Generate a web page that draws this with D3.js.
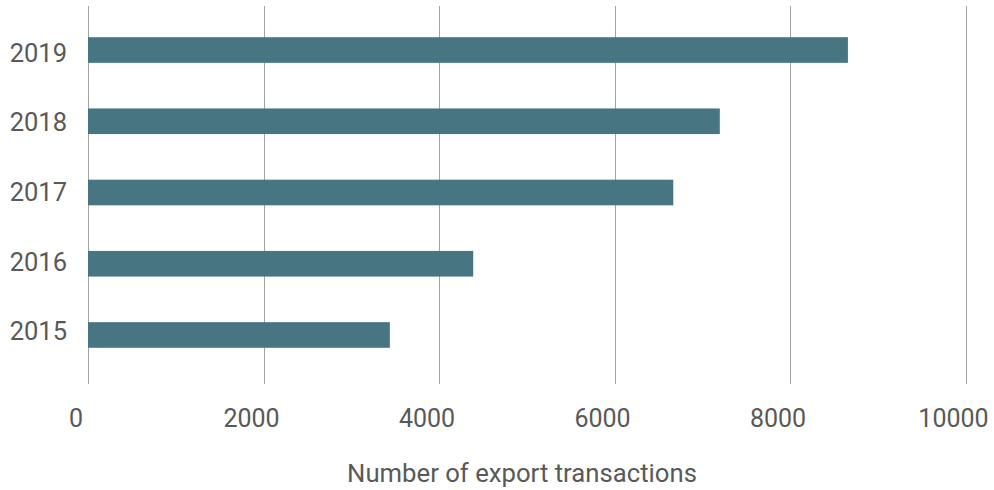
<!DOCTYPE html>
<html>
<head>
<meta charset="utf-8">
<script src="https://cdn.jsdelivr.net/npm/d3@7"></script>
<style>
  html, body { margin: 0; padding: 0; background: #fff; }
  svg { display: block; }
  text { font-family: Roboto, "Noto Sans", sans-serif; fill: #595959; }
</style>
</head>
<body>
<svg id="chart" width="994" height="490"></svg>
<script>
const years = ["2019", "2018", "2017", "2016", "2015"];
const transactions = [8660, 7200, 6670, 4390, 3440];
const xTicks = [0, 2000, 4000, 6000, 8000, 10000];
const xTitle = "Number of export transactions";

const svg = d3.select("#chart");
const x = d3.scaleLinear().domain([0, 10000]).range([88, 965.5]);
const y = d3.scaleBand().domain(years).range([14.4, 370.6]).paddingInner(0.64).paddingOuter(0.32);
const yLabel = d3.scalePoint().domain(years).range([52.7, 331]);

// gridlines
svg.append("g").selectAll("line").data(xTicks).join("line")
  .attr("x1", d => Math.round(x(d)) + 0.5).attr("x2", d => Math.round(x(d)) + 0.5)
  .attr("y1", 6).attr("y2", 384)
  .attr("stroke", "#a3a3a3").attr("stroke-width", 1);

// bars
svg.append("g").selectAll("rect").data(years).join("rect")
  .attr("x", x(0))
  .attr("y", d => y(d))
  .attr("width", (d, i) => x(transactions[i]) - x(0))
  .attr("height", y.bandwidth())
  .attr("fill", "#477682");

// y labels
svg.append("g").selectAll("text").data(years).join("text")
  .attr("x", 67)
  .attr("y", d => yLabel(d))
  .attr("dy", "0.36em")
  .attr("text-anchor", "end")
  .attr("font-size", 25.5)
  .text(d => d);

// x tick labels
svg.append("g").selectAll("text").data(xTicks).join("text")
  .attr("x", d => x(d) - 12)
  .attr("y", 426.5)
  .attr("text-anchor", "middle")
  .attr("font-size", 25)
  .text(d => d);

// x title
svg.append("text")
  .attr("x", 522)
  .attr("y", 482)
  .attr("text-anchor", "middle")
  .attr("font-size", 25.7)
  .text(xTitle);
</script>
</body>
</html>
